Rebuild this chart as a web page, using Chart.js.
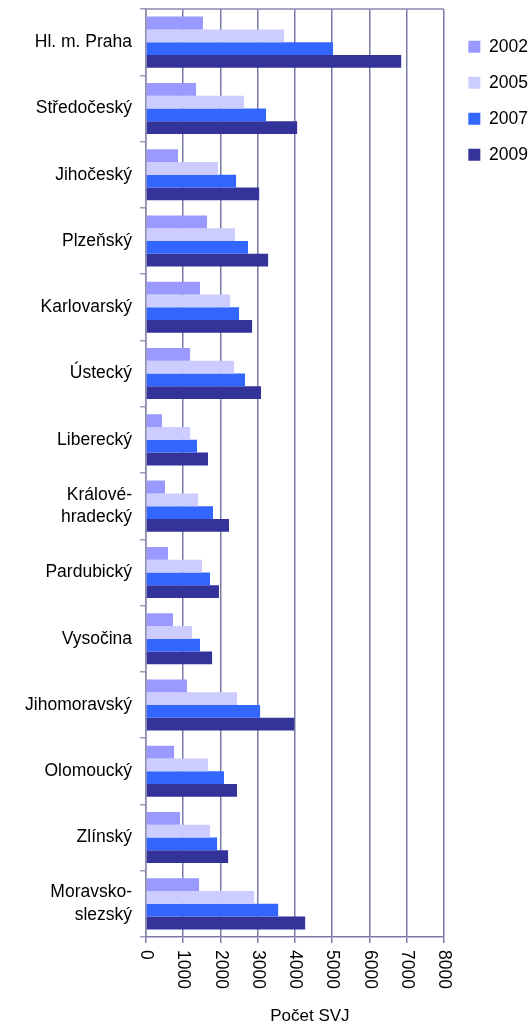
<!DOCTYPE html>
<html>
<head>
<meta charset="utf-8">
<script src="https://cdn.jsdelivr.net/npm/chart.js@4/dist/chart.umd.min.js"></script>
<style>
  html, body { margin: 0; padding: 0; background: #ffffff; }
  #wrap { position: relative; width: 531px; height: 1025px; }
</style>
</head>
<body>
<div id="wrap"><canvas id="c"></canvas></div>
<script>
const regions = [
  'Hl. m. Praha', 'Středočeský', 'Jihočeský', 'Plzeňský', 'Karlovarský', 'Ústecký',
  'Liberecký', ['Králové-', 'hradecký'], 'Pardubický', 'Vysočina', 'Jihomoravský',
  'Olomoucký', 'Zlínský', ['Moravsko-', 'slezský']
];
const years = ['2002', '2005', '2007', '2009'];
const svj2002 = [1530, 1345, 860, 1640, 1450, 1185, 430, 510, 590, 725, 1100, 755, 915, 1425];
const svj2005 = [3710, 2635, 1935, 2390, 2260, 2365, 1185, 1400, 1505, 1235, 2445, 1665, 1720, 2905];
const svj2007 = [5025, 3225, 2420, 2740, 2500, 2660, 1370, 1800, 1720, 1450, 3065, 2095, 1910, 3550];
const svj2009 = [6855, 4060, 3040, 3280, 2850, 3090, 1665, 2230, 1960, 1775, 3980, 2445, 2205, 4275];
const xTicks = [0, 1000, 2000, 3000, 4000, 5000, 6000, 7000, 8000];
const axisTitle = 'Počet SVJ';
const colors = ['#9999ff', '#ccccff', '#3366ff', '#333399'];

const FONT = '"Liberation Sans", Arial, sans-serif';
const FS = 17.5;

const extras = {
  id: 'extras',
  afterLayout(chart) {
    const lg = chart.legend;
    if (lg) {
      lg.left += 6; lg.right += 6;
      lg.top += 10.5; lg.bottom += 10.5;
    }
  },
  afterDraw(chart) {
    const ctx = chart.ctx;
    const xs = chart.scales.x;
    const a = chart.chartArea;
    ctx.save();
    // top border of plot area
    ctx.strokeStyle = '#8a8aae';
    ctx.lineWidth = 1.5;
    ctx.beginPath();
    ctx.moveTo(a.left, a.top);
    ctx.lineTo(a.right, a.top);
    ctx.stroke();
    // rotated x tick labels (reading top to bottom)
    ctx.fillStyle = '#000000';
    ctx.font = FS + 'px ' + FONT;
    ctx.textAlign = 'left';
    ctx.textBaseline = 'middle';
    xTicks.forEach(v => {
      const x = xs.getPixelForValue(v);
      ctx.save();
      ctx.translate(x, xs.top + 13);
      ctx.rotate(Math.PI / 2);
      ctx.fillText(String(v), 0, 0);
      ctx.restore();
    });
    // axis title
    ctx.textAlign = 'center';
    ctx.textBaseline = 'middle';
    ctx.font = '17px ' + FONT;
    ctx.fillText(axisTitle, (xs.left + xs.right) / 2 + 15, 1016);
    ctx.restore();
  }
};

const datasets = [svj2002, svj2005, svj2007, svj2009].map((d, i) => ({
  label: years[i],
  data: d,
  backgroundColor: colors[i],
  borderWidth: 0,
  categoryPercentage: 0.77,
  barPercentage: 1.0
}));

new Chart(document.getElementById('c'), {
  type: 'bar',
  data: { labels: regions, datasets },
  options: {
    indexAxis: 'y',
    responsive: true,
    maintainAspectRatio: false,
    animation: false,
    layout: { padding: { top: 9, left: 0, right: -1, bottom: 0 } },
    plugins: {
      tooltip: { enabled: false },
      legend: {
        position: 'right',
        align: 'start',
        labels: {
          boxWidth: 12,
          boxHeight: 12,
          padding: 18.5,
          color: '#000000',
          font: { family: FONT, size: FS }
        }
      }
    },
    scales: {
      x: {
        type: 'linear',
        position: 'bottom',
        min: 0,
        max: 8000,
        afterFit(s) { s.height = 88; s.paddingLeft = 0; s.paddingRight = 0; },
        afterBuildTicks(s) { s.ticks = xTicks.map(v => ({ value: v })); },
        ticks: { color: 'rgba(0,0,0,0)', minRotation: 90, maxRotation: 90, font: { family: FONT, size: FS } },
        grid: { color: '#7a7aa8', lineWidth: 1.5, drawTicks: true, tickLength: 6 },
        border: { display: true, color: '#7a7aa8', width: 1.5 }
      },
      y: {
        type: 'category',
        offset: true,
        afterFit(s) { s.width = 146; s.paddingTop = 0; s.paddingBottom = 0; },
        ticks: {
          color: '#000000',
          padding: 8,
          autoSkip: false,
          font: { family: FONT, size: FS, lineHeight: 1.3 }
        },
        grid: { offset: true, drawOnChartArea: false, drawTicks: true, tickLength: 6, color: '#9a9ab8', lineWidth: 1.5 },
        border: { display: true, color: '#8a8aae', width: 1.5 }
      }
    }
  },
  plugins: [extras]
});
</script>
</body>
</html>
